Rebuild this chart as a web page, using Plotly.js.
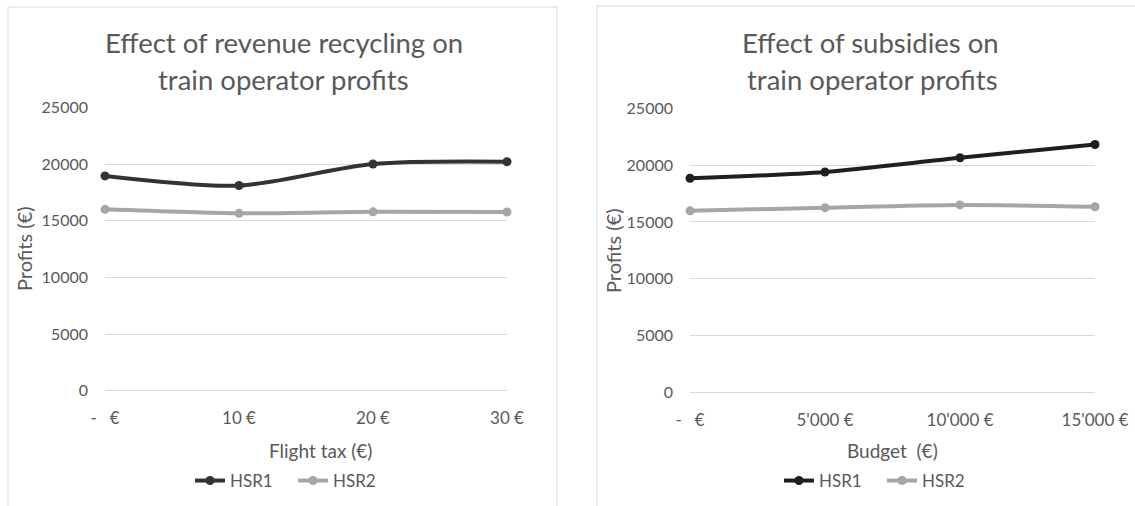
<!DOCTYPE html>
<html><head><meta charset="utf-8">
<script src="https://cdn.plot.ly/plotly-3.0.1.min.js"></script>
<style>html,body{margin:0;padding:0;background:#fff}#chart{width:1135px;height:506px}</style>
</head><body><div id="chart"></div>
<script>
// ---- data ----
const taxCategories = ['-\u00a0\u00a0\u00a0€', '10 €', '20 €', '30 €'];
const taxHSR1 = [18950, 18100, 20000, 20200];
const taxHSR2 = [16000, 15650, 15780, 15770];
const budgetCategories = ['-\u00a0\u00a0\u00a0€', "5'000 €", "10'000 €", "15'000 €"];
const budgetHSR1 = [18850, 19400, 20650, 21820];
const budgetHSR2 = [15980, 16260, 16500, 16340];
const seriesNames = ['HSR1', 'HSR2'];
const yTickVals = [0, 5000, 10000, 15000, 20000, 25000];
const leftTitle = ['Effect of revenue recycling on', 'train operator profits'];
const rightTitle = ['Effect of subsidies on', 'train operator profits'];
const leftXTitle = 'Flight tax (€)';
const rightXTitle = 'Budget\u00a0 (€)';
const yTitle = 'Profits (€)';

// ---- layout helpers ----
const W = 1135, H = 506;
const px = x => x / W, py = y => 1 - y / H;
const FONT = 'Lato, Carlito, Calibri, "Open Sans", sans-serif';
const TXT = '#595959';
const GRID = '#d9d9d9';

function line(x, y, name, color, xa, ya, leg) {
  return {
    type: 'scatter', mode: 'lines+markers', x: x, y: y, name: name,
    xaxis: xa, yaxis: ya, legend: leg, cliponaxis: false,
    line: {color: color, width: 4, shape: 'spline', smoothing: 0.8},
    marker: {color: color, size: 9}
  };
}

const traces = [
  line(taxCategories, taxHSR1, seriesNames[0], '#333333', 'x', 'y', 'legend'),
  line(taxCategories, taxHSR2, seriesNames[1], '#a6a6a6', 'x', 'y', 'legend'),
  line(budgetCategories, budgetHSR1, seriesNames[0], '#1f1f1f', 'x2', 'y2', 'legend2'),
  line(budgetCategories, budgetHSR2, seriesNames[1], '#a6a6a6', 'x2', 'y2', 'legend2')
];

function xAxis(d0, d1, anchor) {
  return {domain: [px(d0), px(d1)], anchor: anchor, type: 'category', range: [0, 3],
    showgrid: false, zeroline: false, showline: false, ticks: '',
    tickfont: {family: FONT, size: 17, color: TXT}, ticklabelstandoff: 15, fixedrange: true};
}
function yAxis(top, bottom, anchor) {
  return {domain: [py(bottom), py(top)], anchor: anchor, range: [0, 25000],
    tickvals: yTickVals, tickformat: 'd', showgrid: true, gridcolor: GRID, gridwidth: 1,
    zeroline: true, zerolinecolor: GRID, zerolinewidth: 1, showline: false, ticks: '',
    tickfont: {family: FONT, size: 16, color: TXT}, ticklabelstandoff: 16, fixedrange: true};
}

function ann(text, x, y, size, extra) {
  return Object.assign({text: text, x: px(x), y: py(y), xref: 'paper', yref: 'paper',
    showarrow: false, xanchor: 'center', yanchor: 'middle',
    font: {family: FONT, size: size, color: TXT}}, extra || {});
}

function legendAt(x) {
  return {orientation: 'h', x: px(x), y: py(481), xanchor: 'left', yanchor: 'middle',
    font: {family: FONT, size: 17, color: TXT}, bgcolor: 'rgba(0,0,0,0)',
    entrywidth: 58, entrywidthmode: 'pixels', itemwidth: 30};
}

const layout = {
  width: W, height: H, margin: {l: 0, r: 0, t: 0, b: 0},
  paper_bgcolor: '#ffffff', plot_bgcolor: 'rgba(0,0,0,0)',
  font: {family: FONT, color: TXT},
  xaxis: xAxis(105, 507, 'y'),
  yaxis: yAxis(107.3, 390.8, 'x'),
  xaxis2: xAxis(690, 1095, 'y2'),
  yaxis2: yAxis(108.3, 392.5, 'x2'),
  legend: legendAt(190),
  legend2: legendAt(779),
  shapes: [
    {type: 'rect', xref: 'paper', yref: 'paper', x0: px(8), x1: px(557), y0: -0.1, y1: py(7),
      line: {color: GRID, width: 1}, fillcolor: 'rgba(0,0,0,0)', layer: 'below'},
    {type: 'rect', xref: 'paper', yref: 'paper', x0: px(597), x1: 1.1, y0: -0.1, y1: py(6),
      line: {color: GRID, width: 1}, fillcolor: 'rgba(0,0,0,0)', layer: 'below'}
  ],
  annotations: [
    ann(leftTitle[0], 284, 43, 27.5),
    ann(leftTitle[1], 283, 79, 27.5),
    ann(rightTitle[0], 871, 43, 27.5),
    ann(rightTitle[1], 872, 79, 27.5),
    ann(leftXTitle, 320, 450, 19),
    ann(rightXTitle, 892, 450, 19),
    ann(yTitle, 24, 249, 20, {textangle: -90}),
    ann(yTitle, 613, 251, 20, {textangle: -90})
  ],
  hovermode: false
};

Plotly.newPlot('chart', traces, layout, {displayModeBar: false, staticPlot: true});
</script>
</body></html>
